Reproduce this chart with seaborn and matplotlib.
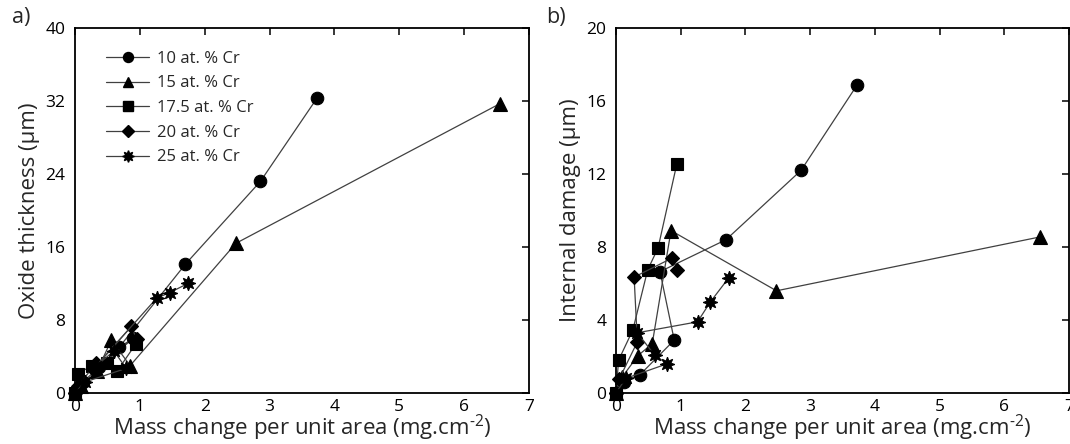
import numpy as np
import pandas as pd
import matplotlib
matplotlib.use("Agg")
import matplotlib.pyplot as plt
import seaborn as sns
from matplotlib.lines import Line2D

# Mass change (mg/cm^2), oxide thickness (um) and internal damage (um) per alloy,
# listed in exposure order
labels = ["10 at. % Cr", "15 at. % Cr", "17.5 at. % Cr", "20 at. % Cr", "25 at. % Cr"]

cr10_mass = [0, 0.12, 0.37, 0.90, 0.68, 1.70, 2.86, 3.73]
cr10_oxide = [0, 1.2, 2.8, 6.0, 5.0, 14.1, 23.2, 32.3]
cr10_damage = [0, 0.6, 1.0, 2.9, 6.65, 8.4, 12.2, 16.9]

cr15_mass = [0, 0.10, 0.34, 0.56, 0.85, 2.48, 6.55]
cr15_oxide = [0, 0.8, 2.4, 5.8, 3.0, 16.4, 31.7]
cr15_damage = [0, 0.9, 2.05, 2.7, 8.9, 5.6, 8.55]

cr175_mass = [0, 0.04, 0.26, 0.49, 0.65, 0.94]
cr175_oxide = [0, 2.1, 3.0, 3.3, 2.4, 5.4]
cr175_damage = [0, 1.8, 3.45, 6.75, 7.95, 12.55]

cr20_mass = [0, 0.05, 0.33, 0.28, 0.87, 0.95]
cr20_oxide = [0, 0.8, 3.3, 2.6, 7.3, 5.9]
cr20_damage = [0, 0.77, 2.8, 6.35, 7.4, 6.75]

cr25_mass = [0, 0.15, 0.79, 0.60, 0.33, 1.26, 1.46, 1.74]
cr25_oxide = [0, 1.2, 2.7, 4.6, 3.0, 10.4, 11.0, 12.0]
cr25_damage = [0, 0.8, 1.6, 2.06, 3.3, 3.9, 5.0, 6.3]

x_ticks = [0, 1, 2, 3, 4, 5, 6, 7]
oxide_ticks = [0, 8, 16, 24, 32, 40]
damage_ticks = [0, 4, 8, 12, 16, 20]

series = [
    (labels[0], cr10_mass, cr10_oxide, cr10_damage),
    (labels[1], cr15_mass, cr15_oxide, cr15_damage),
    (labels[2], cr175_mass, cr175_oxide, cr175_damage),
    (labels[3], cr20_mass, cr20_oxide, cr20_damage),
    (labels[4], cr25_mass, cr25_oxide, cr25_damage),
]

rows = []
for name, m, o, d in series:
    for i, (mv, ov, dv) in enumerate(zip(m, o, d)):
        rows.append({"alloy": name, "step": i, "mass": mv, "oxide": ov, "damage": dv})
df = pd.DataFrame(rows)

sns.set_theme(style="white")
plt.rcParams["font.family"] = ["Open Sans", "DejaVu Sans"]
plt.rcParams["mathtext.fontset"] = "custom"
plt.rcParams["mathtext.rm"] = "Open Sans"
plt.rcParams["mathtext.it"] = "Open Sans"
plt.rcParams["mathtext.default"] = "regular"

marker_map = {
    labels[0]: "o",
    labels[1]: "^",
    labels[2]: "s",
    labels[3]: "D",
    labels[4]: (8, 1, 0),
}
marker_size = {labels[0]: 9, labels[1]: 9.5, labels[2]: 8.5, labels[3]: 7.5, labels[4]: 10.5}

fig = plt.figure(figsize=(10.70, 4.44), dpi=100)
ax_a = fig.add_axes([75 / 1070, 51 / 444, 454 / 1070, 365 / 444])
ax_b = fig.add_axes([616 / 1070, 51 / 444, 453 / 1070, 365 / 444])

line_col = "#404040"

for ax, ycol, yticks, ymax in [(ax_a, "oxide", oxide_ticks, 40), (ax_b, "damage", damage_ticks, 20)]:
    sns.lineplot(
        data=df, x="mass", y=ycol, hue="alloy", style="alloy",
        hue_order=labels, style_order=labels,
        palette=["black"] * 5, markers=marker_map, dashes=False,
        sort=False, estimator=None, units="alloy", legend=False, ax=ax,
        linewidth=0.9,
    )
    for ln, name in zip(ax.lines, labels):
        ln.set_color(line_col)
        ln.set_markerfacecolor("black")
        ln.set_markeredgecolor("black")
        ln.set_markersize(marker_size[name])
        ln.set_markeredgewidth(0.8)
        ln.set_clip_on(False)
    ax.set_xlim(0, 7)
    ax.set_ylim(0, ymax)
    ax.set_xticks(x_ticks)
    ax.set_yticks(yticks)
    ax.tick_params(direction="in", length=5, width=1.1, top=True, right=True,
                   labelsize=12.5, colors="black")
    ax.tick_params(axis="y", pad=7)
    ax.tick_params(axis="x", pad=4)
    for sp in ax.spines.values():
        sp.set_visible(True)
        sp.set_color("black")
        sp.set_linewidth(1.3)
    ax.set_xlabel(r"Mass change per unit area (mg.cm$^{\text{-}2}$)", fontsize=16, labelpad=-1)

ax_a.set_ylabel("Oxide thickness (µm)", fontsize=16, labelpad=4)
ax_b.set_ylabel("Internal damage (µm)", fontsize=16, labelpad=4)

fig.text(12 / 1070, 1 - 17 / 444, "a)", fontsize=15.5, va="center", ha="left")
fig.text(546 / 1070, 1 - 17 / 444, "b)", fontsize=15.5, va="center", ha="left")

handles = [
    Line2D([0], [0], color=line_col, lw=0.9, marker=marker_map[n], markersize=marker_size[n] * 0.8,
           markerfacecolor="black", markeredgecolor="black")
    for n in labels
]
ax_a.legend(handles, labels, loc="upper left", bbox_to_anchor=(0.046, 0.965), frameon=False,
            fontsize=12, handlelength=2.6, handletextpad=0.45, labelspacing=0.52, borderaxespad=0.2)

fig.savefig("out.png", dpi=100)
